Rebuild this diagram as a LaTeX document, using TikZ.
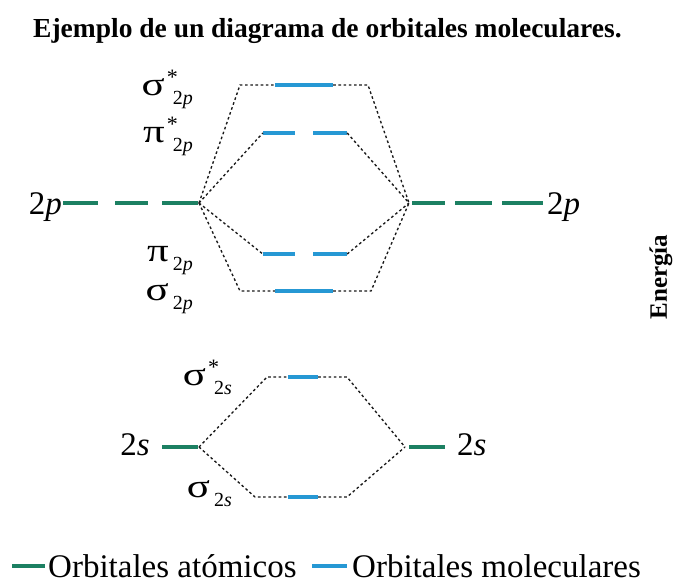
\documentclass[tikz,border=0pt]{standalone}
\usepackage{fontspec}
\setmainfont{Liberation Serif}
\usepackage{graphicx}
\definecolor{aoc}{RGB}{28,128,98}
\definecolor{moc}{RGB}{38,152,212}
\newcommand\gkf{\fontsize{33}{33}\selectfont}
\newcommand\subf{\fontsize{20}{20}\selectfont}
\newcommand\molS[2]{{\gkf\scalebox{1.3}[1]{#1}}\hspace{2pt}\rlap{\raisebox{11pt}{\fontsize{22}{22}\selectfont *}}\hspace{6pt}\raisebox{-9pt}{\subf #2}}
\newcommand\molN[2]{{\gkf\scalebox{1.3}[1]{#1}}\hspace{4pt}\raisebox{-9pt}{\subf #2}}
\begin{document}
\begin{tikzpicture}[x=1pt,y=-1pt,
  orb/.style={inner sep=0pt, minimum height=4.6pt, fill=#1, draw=none},
  dotl/.style={black!90, line width=1.35pt, dash pattern=on 2.6pt off 2.6pt},
  lbl/.style={inner sep=0pt, anchor=base east},
  big/.style={inner sep=0pt, font=\fontsize{33}{33}\selectfont}]
\useasboundingbox (0,0) rectangle (680,587);
\fill[white] (0,0) rectangle (680,587);
% title
\node[anchor=base west, inner sep=0pt, font=\bfseries\fontsize{27.5}{30}\selectfont] (title) at (33,37) {Ejemplo de un diagrama de orbitales moleculares.};
% junctions
\coordinate (L2p) at (199,203);
\coordinate (R2p) at (409,203);
\coordinate (L2s) at (199,447);
\coordinate (R2s) at (405,447);
% atomic 2p levels
\node[orb=aoc, minimum width=35pt] (pl1) at (80.5,203) {};
\node[orb=aoc, minimum width=33pt] (pl2) at (131.5,203) {};
\node[orb=aoc, minimum width=36pt] (pl3) at (180,203) {};
\node[orb=aoc, minimum width=33pt] (pr1) at (428.5,203) {};
\node[orb=aoc, minimum width=37pt] (pr2) at (473.5,203) {};
\node[orb=aoc, minimum width=41pt] (pr3) at (522.5,203) {};
\node[big, anchor=base east] (t2pl) at (62,214) {2\textit{p}};
\node[big, anchor=base west] (t2pr) at (547,214) {2\textit{p}};
% molecular 2p levels
\node[orb=moc, minimum width=58pt] (ssb) at (304,85) {};
\node[orb=moc, minimum width=32pt] (pb1) at (279,133) {};
\node[orb=moc, minimum width=34pt] (pb2) at (330,133) {};
\node[orb=moc, minimum width=32pt] (pa1) at (279,254) {};
\node[orb=moc, minimum width=34pt] (pa2) at (330,254) {};
\node[orb=moc, minimum width=58pt] (ssa) at (304,291) {};
\coordinate (c1) at (240,85);
\coordinate (c2) at (368,85);
\coordinate (c3) at (240,291);
\coordinate (c4) at (371,291);
\draw[dotl] (L2p) -- (c1) -- (ssb.west);
\draw[dotl] (ssb.east) -- (c2) -- (R2p);
\draw[dotl] (L2p) -- (pb1.west);
\draw[dotl] (pb2.east) -- (R2p);
\draw[dotl] (L2p) -- (pa1.west);
\draw[dotl] (pa2.east) -- (R2p);
\draw[dotl] (L2p) -- (c3) -- (ssa.west);
\draw[dotl] (ssa.east) -- (c4) -- (R2p);
\node[lbl] (lsb) at (193,95) {\molS{σ}{2\textit{p}}};
\node[lbl] (lpb) at (193,142) {\molS{π}{2\textit{p}}};
\node[lbl] (lpa) at (193,261) {\molN{π}{2\textit{p}}};
\node[lbl] (lsa) at (193,300) {\molN{σ}{2\textit{p}}};
% 2s
\node[orb=aoc, minimum width=36pt] (sl) at (180,447) {};
\node[orb=aoc, minimum width=36pt] (sr) at (427,447) {};
\node[big, anchor=base east] (t2sl) at (150,455) {2\textit{s}};
\node[big, anchor=base west] (t2sr) at (457,455) {2\textit{s}};
\node[orb=moc, minimum width=30pt] (s2b) at (303,377) {};
\node[orb=moc, minimum width=30pt] (s2a) at (303,497) {};
\coordinate (c5) at (267,377);
\coordinate (c6) at (347,377);
\coordinate (c7) at (255,497);
\coordinate (c8) at (347,497);
\draw[dotl] (L2s) -- (c5) -- (s2b.west);
\draw[dotl] (s2b.east) -- (c6) -- (R2s);
\draw[dotl] (L2s) -- (c7) -- (s2a.west);
\draw[dotl] (s2a.east) -- (c8) -- (R2s);
\node[lbl] (ls2b) at (232,385) {\molS{σ}{2\textit{s}}};
\node[lbl] (ls2a) at (232,497) {\molN{σ}{2\textit{s}}};
% energy
\node[rotate=90, inner sep=0pt, font=\bfseries\fontsize{25}{25}\selectfont] (en) at (661,277) {Energía};
% legend
\node[orb=aoc, minimum width=33pt] (lga) at (28.5,566) {};
\node[anchor=base west, inner sep=0pt, font=\fontsize{33}{36}\selectfont] (lta) at (48,577) {Orbitales atómicos};
\node[orb=moc, minimum width=35pt] (lgm) at (329.5,566) {};
\node[anchor=base west, inner sep=0pt, font=\fontsize{33}{36}\selectfont] (ltm) at (352,577) {Orbitales moleculares};
\end{tikzpicture}
\end{document}
